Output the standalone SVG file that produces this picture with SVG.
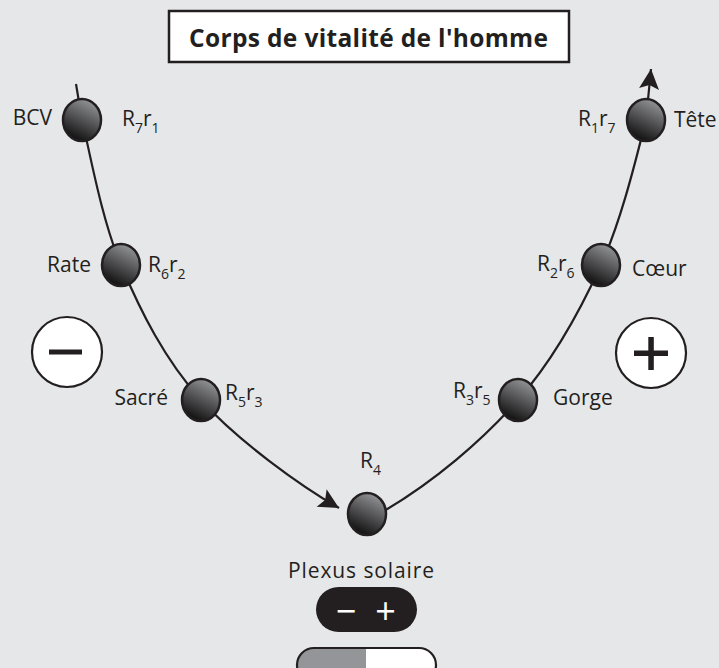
<svg xmlns="http://www.w3.org/2000/svg" width="719" height="668" viewBox="0 0 719 668">
<defs>
<linearGradient id="ball" x1="0.7" y1="0.05" x2="0.3" y2="0.95">
<stop offset="0" stop-color="#909194"/>
<stop offset="0.55" stop-color="#4a4a4c"/>
<stop offset="1" stop-color="#111"/>
</linearGradient>
<marker id="arr" viewBox="-22 -12 24 24" refX="0" refY="0" markerWidth="24" markerHeight="24" markerUnits="userSpaceOnUse" orient="auto">
<path d="M0,0 L-20,-10 L-16,0 L-20,10 Z" fill="#231f20"/>
</marker>
<style>
.bg{fill:#e6e7e8}
.node{fill:url(#ball);stroke:#231f20;stroke-width:2.5}
.lbl{font-family:"Open Sans","Noto Sans","Liberation Sans",sans-serif;font-size:21px;fill:#231f20}
.sub{font-size:14px}
.curve{fill:none;stroke:#231f20;stroke-width:2.2}
.sign{fill:#fff;stroke:#231f20;stroke-width:2.2}
.pm{font-family:"Open Sans","Noto Sans","Liberation Sans",sans-serif;font-size:36px;fill:#fff}
</style>
</defs>
<rect class="bg" x="0" y="0" width="719" height="668"/>

<g id="title">
<rect x="169" y="11" width="400" height="51" fill="#fff" stroke="#231f20" stroke-width="2.5"/>
<text x="189" y="47" textLength="359" lengthAdjust="spacing" font-family="'Open Sans','Noto Sans','Liberation Sans',sans-serif" font-weight="bold" font-size="24.5" fill="#231f20">Corps de vitalité de l'homme</text>
</g>

<g id="connectors">
<path class="curve" marker-end="url(#arr)" d="M76,84 L82,120 C89.5,150.2 101.2,218.3 121,265 C140.8,311.7 164.5,359.5 201,400 C237.5,440.5 300,485.6 339,508"/>
<path class="curve" marker-end="url(#arr)" d="M384,511 C434,481.5 481.8,441 518,400 C554.2,359 579.7,311.7 601,265 C622.3,218.3 637.5,152.7 646,120 L651,69"/>
</g>

<g id="node-bcv">
<ellipse class="node" cx="82" cy="120" rx="19" ry="21"/>
<text class="lbl" x="52" y="125" text-anchor="end">BCV</text>
<text class="lbl" x="122" y="126">R<tspan class="sub" dy="7">7</tspan><tspan dy="-7">r</tspan><tspan class="sub" dy="7">1</tspan></text>
</g>
<g id="node-tete">
<ellipse class="node" cx="646" cy="120" rx="19" ry="21"/>
<text class="lbl" x="578" y="126">R<tspan class="sub" dy="7">1</tspan><tspan dy="-7">r</tspan><tspan class="sub" dy="7">7</tspan></text>
<text class="lbl" x="674" y="127">Tête</text>
</g>
<g id="node-rate">
<ellipse class="node" cx="121" cy="265" rx="19" ry="21"/>
<text class="lbl" x="91" y="272" text-anchor="end">Rate</text>
<text class="lbl" x="148" y="272">R<tspan class="sub" dy="7">6</tspan><tspan dy="-7">r</tspan><tspan class="sub" dy="7">2</tspan></text>
</g>
<g id="node-coeur">
<ellipse class="node" cx="601" cy="265" rx="19" ry="21"/>
<text class="lbl" x="537" y="271">R<tspan class="sub" dy="7">2</tspan><tspan dy="-7">r</tspan><tspan class="sub" dy="7">6</tspan></text>
<text class="lbl" x="632" y="276">Cœur</text>
</g>
<g id="node-sacre">
<ellipse class="node" cx="201" cy="400" rx="19" ry="21"/>
<text class="lbl" x="168" y="405" text-anchor="end">Sacré</text>
<text class="lbl" x="225" y="400">R<tspan class="sub" dy="7">5</tspan><tspan dy="-7">r</tspan><tspan class="sub" dy="7">3</tspan></text>
</g>
<g id="node-gorge">
<ellipse class="node" cx="518" cy="400" rx="19" ry="21"/>
<text class="lbl" x="453" y="398">R<tspan class="sub" dy="7">3</tspan><tspan dy="-7">r</tspan><tspan class="sub" dy="7">5</tspan></text>
<text class="lbl" x="553" y="405">Gorge</text>
</g>
<g id="node-plexus">
<ellipse class="node" cx="367" cy="514" rx="19" ry="21"/>
<text class="lbl" x="360" y="468">R<tspan class="sub" dy="7">4</tspan></text>
<text class="lbl" x="361.5" y="578" text-anchor="middle" letter-spacing="0.9">Plexus solaire</text>
</g>

<g id="minus-sign">
<circle class="sign" cx="67" cy="352" r="35"/>
<rect x="49" y="349.5" width="33" height="5" fill="#231f20"/>
</g>
<g id="plus-sign">
<circle class="sign" cx="651" cy="353" r="35"/>
<rect x="634" y="350.5" width="34" height="5.5" fill="#231f20"/>
<rect x="648.3" y="337" width="5.5" height="33" fill="#231f20"/>
</g>

<g id="pill">
<rect x="316" y="587" width="101" height="45" rx="22.5" fill="#231f20"/>
<text class="pm" x="346" y="624" text-anchor="middle">−</text>
<text class="pm" x="385.5" y="624" text-anchor="middle">+</text>
</g>

<g id="gauge">
<path d="M366,648 H314 A17,17 0 0 0 314,682 H366 Z" fill="#939598"/>
<path d="M366,648 H419 A17,17 0 0 1 419,682 H366 Z" fill="#fff"/>
<rect x="297" y="648" width="139" height="34" rx="17" fill="none" stroke="#231f20" stroke-width="2.2"/>
</g>
</svg>
